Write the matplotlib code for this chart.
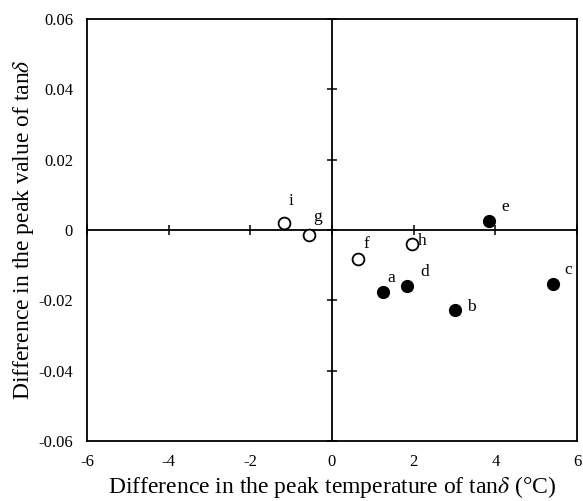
import matplotlib
matplotlib.use("Agg")
import matplotlib.pyplot as plt
import numpy as np

plt.rcParams["font.family"] = "Liberation Serif"
plt.rcParams["mathtext.fontset"] = "stix"
plt.rcParams["axes.unicode_minus"] = False

# filled samples
filled_labels = ["a", "b", "c", "d", "e"]
filled_x = [1.24, 3.00, 5.42, 1.83, 3.85]
filled_y = [-0.0175, -0.0227, -0.0154, -0.0159, 0.0026]

# open samples
open_labels = ["f", "g", "h", "i"]
open_x = [0.63, -0.57, 1.95, -1.18]
open_y = [-0.0083, -0.0014, -0.0041, 0.0019]

xticks = [-6, -4, -2, 0, 2, 4, 6]
yticks = [-0.06, -0.04, -0.02, 0, 0.02, 0.04, 0.06]
ytick_labels = ["-0.06", "-0.04", "-0.02", "0", "0.02", "0.04", "0.06"]

fig = plt.figure(figsize=(5.83, 5.01), dpi=100)
ax = fig.add_axes([87 / 583, 60 / 501, 490 / 583, 422 / 501])

ax.set_xlim(-6, 6)
ax.set_ylim(-0.06, 0.06)

# centre cross lines with small cross ticks
ax.axhline(0, color="black", lw=1.3, zorder=1)
ax.axvline(0, color="black", lw=1.3, zorder=1)
ax.plot(xticks, [0] * len(xticks), ls="none", marker="|", ms=7, mew=1.1,
        color="black", zorder=1, clip_on=False)
ax.plot([0] * len(yticks), yticks, ls="none", marker="_", ms=7, mew=1.1,
        color="black", zorder=1, clip_on=False)

ax.plot(filled_x, filled_y, ls="none", marker="o", ms=8.5, color="black", zorder=3)
ax.plot(open_x, open_y, ls="none", marker="o", ms=8.5, mfc="white",
        mec="black", mew=1.3, zorder=3)

# label offsets (points), label centred
offsets = {"a": (6, 10), "b": (12, 2), "c": (11, 10), "d": (13, 10), "e": (11.5, 10),
           "f": (6, 11), "g": (6.5, 13), "h": (7.5, 2.5), "i": (5, 16)}
for lab, x, y in zip(filled_labels + open_labels, filled_x + open_x, filled_y + open_y):
    ax.annotate(lab, (x, y), xytext=offsets[lab], textcoords="offset points",
                fontsize=12.5, ha="center", va="center")

ax.set_xticks(xticks)
ax.set_yticks(yticks)
ax.set_yticklabels(ytick_labels)
ax.tick_params(length=0, labelsize=12)
ax.tick_params(axis="x", pad=9)
ax.tick_params(axis="y", pad=10)
for s in ax.spines.values():
    s.set_linewidth(1.3)

ax.set_xlabel(r"Difference in the peak temperature of tan$\delta$ (°C)", fontsize=17, labelpad=3)
ax.set_ylabel(r"Difference in the peak value of tan$\delta$", fontsize=17, labelpad=1.5)

fig.savefig("out.png", dpi=100)
